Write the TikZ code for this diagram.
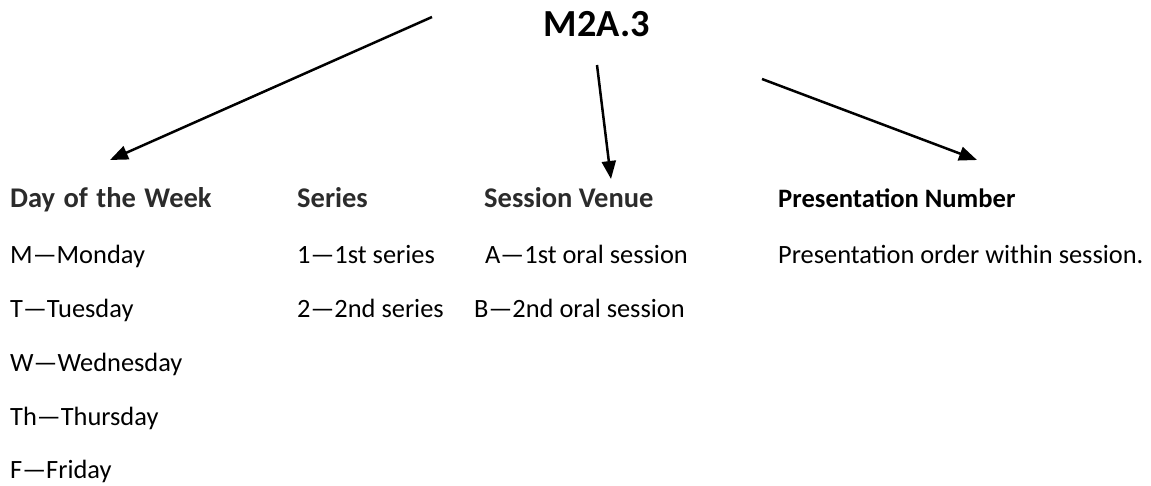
\documentclass[tikz,border=0pt]{standalone}
\usepackage{fontspec}
\setmainfont{Carlito}
\usetikzlibrary{arrows.meta}
\definecolor{headgray}{HTML}{2B2B2B}
\tikzset{
  txt/.style={anchor=base west, inner sep=0pt, font=\fontsize{26.4}{30}\selectfont},
  head/.style={txt, font=\fontsize{28.5}{32}\selectfont\bfseries, text=headgray},
  head4/.style={txt, font=\fontsize{26.6}{30}\selectfont\bfseries, text=black},
  conn/.style={line width=2.5pt, -{Triangle[length=18pt,width=14pt]}}
}
\begin{document}
\begin{tikzpicture}[x=1pt,y=-1pt]
\useasboundingbox (0,0) rectangle (1151,485);
\node[anchor=base, inner sep=0pt, font=\fontsize{38.3}{44}\selectfont\bfseries] (title) at (597,36) {M2A.3};
% headings
\node[head] (h1) at (10,207) {Day\kern2pt\ of\kern2pt\ the\kern2pt\ Week};
\node[head] (h2) at (297,207) {Series};
\node[head] (h3) at (484,207) {Session Venue};
\node[head4] (h4) at (778,207) {Presentation Number};
% column 1
\node[txt] (m) at (10,263) {M—Monday};
\node[txt] (t) at (10,317) {T—Tuesday};
\node[txt] (w) at (10,371) {W—Wednesday};
\node[txt] (th) at (10,425) {Th—Thursday};
\node[txt] (f) at (10,478) {F—Friday};
% column 2
\node[txt] (s1) at (297,263) {1—1st series};
\node[txt] (s2) at (297,317) {2—2nd series};
% column 3
\node[txt] (va) at (485,263) {A—1st oral session};
\node[txt] (vb) at (474,317) {B—2nd oral session};
% column 4
\node[txt] (p) at (778,263) {Presentation order within session.};
% arrows
\coordinate (a1s) at (432,17);
\coordinate (a1e) at (110,160);
\coordinate (a2s) at (597,65);
\coordinate (a2e) at (611,179);
\coordinate (a3s) at (762,79);
\coordinate (a3e) at (977,160);
\draw[conn] (a1s) -- (a1e);
\draw[conn] (a2s) -- (a2e);
\draw[conn] (a3s) -- (a3e);
\end{tikzpicture}
\end{document}
